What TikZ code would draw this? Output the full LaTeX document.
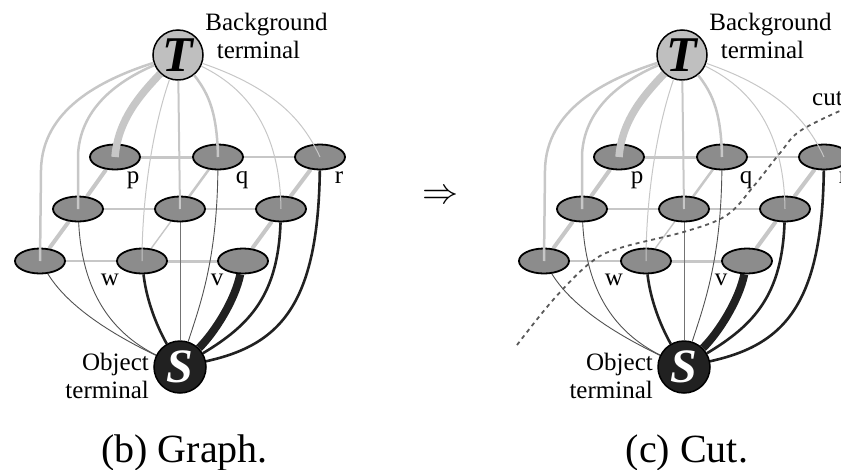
\documentclass[tikz,border=0pt]{standalone}
\usepackage{fontspec}
\setmainfont{Liberation Serif}
\usetikzlibrary{shapes.geometric,backgrounds}

\definecolor{linkgray}{gray}{0.78}
\definecolor{cellgray}{gray}{0.55}
\definecolor{tgray}{gray}{0.75}
\definecolor{sblack}{gray}{0.13}
\definecolor{darkthin}{gray}{0.32}
\definecolor{midthin}{gray}{0.45}
\definecolor{cutgray}{gray}{0.35}

\tikzset{
  cell/.style={ellipse, draw=black, line width=1.8pt, fill=cellgray,
    minimum width=50pt, minimum height=25pt, inner sep=0pt},
  termT/.style={circle, draw=black, line width=1.5pt, fill=tgray,
    minimum size=50pt, inner sep=0pt,
    font=\fontsize{50}{50}\selectfont\bfseries\itshape},
  termS/.style={circle, draw=black, line width=1.5pt, fill=sblack,
    minimum size=52pt, inner sep=0pt, text=white,
    font=\fontsize{48}{48}\selectfont\bfseries\itshape},
  nlink/.style={draw=linkgray},
  tlink/.style={draw=linkgray},
  slink/.style={draw=sblack},
  sthin/.style={draw=darkthin, line width=0.9pt},
  lab/.style={font=\fontsize{25}{28}\selectfont, inner sep=0pt, anchor=base},
  captext/.style={font=\fontsize{40}{44}\selectfont, inner sep=0pt, anchor=base},
  cutline/.style={draw=cutgray, line width=1.8pt, dash pattern=on 4pt off 4pt},
}

% One panel of the grid graph with its two terminals.
% #1 = prefix for node names, #2 = horizontal offset
\newcommand\graphpanel[2]{%
\begin{scope}[xshift=#2pt]
  \node[termT] (#1T) at (178,55) {T};
  \node[termS] (#1S) at (180,367) {S};
  % pixel grid, three rows seen in perspective
  \node[cell] (#1p)  at (115,157) {};
  \node[cell] (#1q)  at (218,157) {};
  \node[cell] (#1r)  at (320,157) {};
  \node[cell] (#1m1) at (78,209) {};
  \node[cell] (#1m2) at (180,209) {};
  \node[cell] (#1m3) at (281,209) {};
  \node[cell] (#1b1) at (40,261) {};
  \node[cell] (#1w)  at (142,261) {};
  \node[cell] (#1v)  at (243,261) {};
  \begin{pgfonlayer}{background}
    % neighbourhood links
    \draw[nlink, line width=3pt]   (#1p) -- (#1q);
    \draw[nlink, line width=1.4pt] (#1q) -- (#1r);
    \draw[nlink, line width=2.5pt] (#1m1) -- (#1m2);
    \draw[nlink, line width=1.4pt] (#1m2) -- (#1m3);
    \draw[nlink, line width=1.4pt] (#1b1) -- (#1w);
    \draw[nlink, line width=3pt]   (#1w) -- (#1v);
    \draw[nlink, line width=4pt]   (#1p) -- (#1m1);
    \draw[nlink, line width=4pt]   (#1m1) -- (#1b1);
    \draw[nlink, line width=2.5pt] (#1q) -- (#1m2);
    \draw[nlink, line width=1.4pt] (#1m2) -- (#1w);
    \draw[nlink, line width=4pt]   (#1r) -- (#1m3);
    \draw[nlink, line width=4pt]   (#1m3) -- (#1v);
    % links to the object terminal
    \draw[sthin] (#1b1) .. controls (70,310) and (120,338) .. (#1S);
    \draw[sthin] (#1m1) .. controls (82,290) and (110,332) .. (#1S);
    \draw[slink, line width=2.6pt] (#1w) .. controls (147,305) and (160,332) .. (#1S);
    \draw[draw=midthin, line width=1pt] (#1m2) -- (#1S);
    \draw[sthin] (#1q) .. controls (217,260) and (200,305) .. (#1S);
    \draw[slink, line width=8pt] (#1v) .. controls (235,300) and (215,332) .. (#1S);
    \draw[slink, line width=2.6pt] (#1m3) .. controls (278,295) and (250,325) .. (#1S);
    \draw[slink, line width=2.6pt] (#1r) .. controls (318,305) and (280,345) .. (#1S);
  \end{pgfonlayer}
  % links to the background terminal
  \draw[tlink, line width=2.5pt] (#1T) .. controls (100,80) and (42,110) .. (41,170) -- (#1b1.center);
  \draw[tlink, line width=2.5pt] (#1T) .. controls (115,82) and (80,110) .. (78,155) -- (#1m1.center);
  \draw[tlink, line width=7.5pt] (#1T) .. controls (140,95) and (118,120) .. (#1p.center);
  \draw[tlink, line width=1pt]   (#1T) .. controls (152,130) and (142,200) .. (#1w.center);
  \draw[tlink, line width=2pt]   (#1T) -- (#1m2.center);
  \draw[tlink, line width=2.5pt] (#1T) .. controls (210,95) and (217,115) .. (#1q.center);
  \draw[tlink, line width=1pt]   (#1T) .. controls (255,92) and (280,140) .. (#1m3.center);
  \draw[tlink, line width=1pt]   (#1T) .. controls (280,90) and (305,125) .. (#1r.center);
  % texts
  \node[lab] (#1lp) at (133,183) {p};
  \node[lab] (#1lq) at (242,183) {q};
  \node[lab] (#1lr) at (339,183) {r};
  \node[lab] (#1lw) at (110,285) {w};
  \node[lab] (#1lv) at (217,285) {v};
  \node[lab] (#1bgA) at (266.5,30) {Background};
  \node[lab] (#1bgB) at (258.5,58) {terminal};
  \node[lab, anchor=base east] (#1obA) at (149,370) {Object};
  \node[lab, anchor=base east] (#1obB) at (149,398) {terminal};
\end{scope}}

\begin{document}
\begin{tikzpicture}[x=1pt, y=-1pt]
  \useasboundingbox (0,0) rectangle (841,469);
  \clip (0,0) rectangle (841,469);

  \graphpanel{L}{0}
  \graphpanel{R}{504}

  \node[inner sep=0pt] (arrow) at (440,197) {\scalebox{3.6}{$\Rightarrow$}};

  % the cut separating the two terminals
  \draw[cutline] plot[smooth, tension=0.6] coordinates {
    (517,345) (553,300) (590,263) (620,248) (687,231) (727,215)
    (753,187) (780,153) (800,131) (842,110)};
  \node[lab, anchor=base west] (cutlabel) at (812,105) {cut};

  \node[captext] (capb) at (184.5,462) {(b) Graph.};
  \node[captext] (capc) at (687,462) {(c) Cut.};
\end{tikzpicture}
\end{document}
